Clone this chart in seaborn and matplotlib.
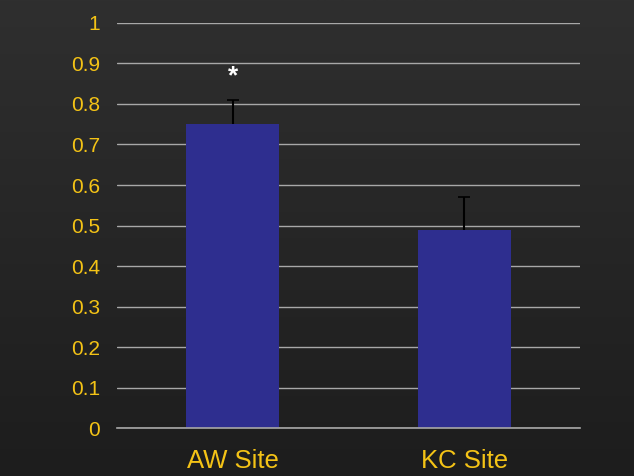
import numpy as np
import pandas as pd
import matplotlib
matplotlib.use("Agg")
import matplotlib.pyplot as plt
import seaborn as sns

sites = ["AW Site", "KC Site"]
means = [0.75, 0.49]
upper_err = [0.06, 0.08]
y_ticks = [0, 0.1, 0.2, 0.3, 0.4, 0.5, 0.6, 0.7, 0.8, 0.9, 1]
y_tick_labels = ["0", "0.1", "0.2", "0.3", "0.4", "0.5", "0.6", "0.7", "0.8", "0.9", "1"]
star_label = "*"

gold = "#f4c316"
grid_col = "#a8a8a8"
bar_col = "#2e2e8f"

sns.set_theme(style="dark")
plt.rcParams["font.family"] = ["Liberation Sans", "DejaVu Sans"]

fig = plt.figure(figsize=(6.34, 4.76), dpi=100)

# dark slide background with a gentle vertical gradient
bg = fig.add_axes([0, 0, 1, 1], zorder=-10)
grad = np.linspace(0, 1, 256).reshape(-1, 1)
cmap = matplotlib.colors.LinearSegmentedColormap.from_list("bg", ["#2f2f2f", "#1d1d1d"])
bg.imshow(grad, aspect="auto", cmap=cmap, extent=[0, 1, 0, 1])
bg.axis("off")

ax = fig.add_axes([0.1845, 0.1008, 0.7305, 0.8509])
ax.set_facecolor("none")

df = pd.DataFrame({"site": sites, "mean": means})
sns.barplot(data=df, x="site", y="mean", color=bar_col, width=0.4,
            saturation=1, ax=ax, zorder=3, errorbar=None, linewidth=0)

# upper-only error bars: hide the cap at the bar top
_, caps, _ = ax.errorbar(range(len(sites)), means,
                         yerr=[np.zeros(len(means)), upper_err],
                         fmt="none", ecolor="black", elinewidth=1.5,
                         capsize=4, capthick=1.2, zorder=2.5)
caps[0].set_visible(False)

ax.text(0, 0.868, star_label, color="white", ha="center", va="center",
        fontsize=19, fontweight="bold")

ax.set_ylim(0, 1)
ax.set_xlim(-0.5, 1.5)
ax.set_yticks(y_ticks)
ax.set_yticklabels(y_tick_labels)
ax.yaxis.grid(True, color=grid_col, linewidth=1.0, zorder=0)
ax.xaxis.grid(False)
ax.set_axisbelow(True)

ax.set_xlabel("")
ax.set_ylabel("")
ax.tick_params(axis="y", colors=gold, labelsize=15, length=0, pad=12)
ax.tick_params(axis="x", colors=gold, labelsize=18.5, length=0, pad=15)
for lab in ax.get_xticklabels() + ax.get_yticklabels():
    lab.set_color(gold)

ax.set_xticks([-0.5, 0.5, 1.5], minor=True)
ax.tick_params(axis="x", which="minor", length=7, width=1.0, color=grid_col, direction="out")

for s in ["top", "right", "left"]:
    ax.spines[s].set_visible(False)
ax.spines["bottom"].set_color(grid_col)
ax.spines["bottom"].set_linewidth(1.2)
ax.spines["bottom"].set_zorder(5)

fig.savefig("out.png", dpi=100)
